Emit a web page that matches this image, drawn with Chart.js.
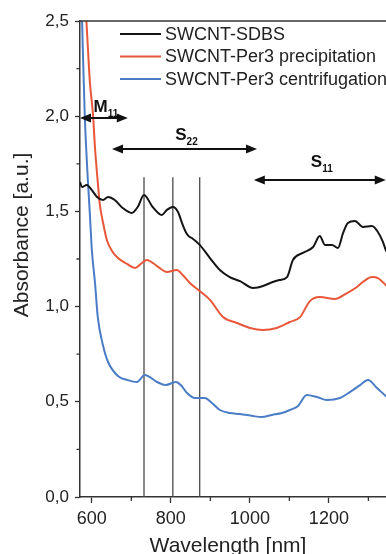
<!DOCTYPE html>
<html lang="en">
  <head>
    <meta charset="UTF-8" />
    <title>Absorbance spectra</title>
    <script src="https://cdn.jsdelivr.net/npm/chart.js"></script>
    <style>
      html, body { margin: 0; padding: 0; background: #fff; overflow: hidden; }
      .wrap { width: 400px; height: 554px; position: relative; }
    </style>
  </head>
  <body>
    <div class="wrap"><canvas id="spectra"></canvas></div>
    <script>
      // tick labels
      const xTicks = [600, 800, 1000, 1200];
      const xTickLabels = ["600", "800", "1000", "1200"];
      const xMinorTicks = [700, 900, 1100, 1300];
      const yTicks = [0, 0.5, 1, 1.5, 2, 2.5];
      const yTickLabels = ["0,0", "0,5", "1,0", "1,5", "2,0", "2,5"];
      const yMinorTicks = [0.25, 0.75, 1.25, 1.75, 2.25];

      const seriesNames = [
        "SWCNT-SDBS",
        "SWCNT-Per3 precipitation",
        "SWCNT-Per3 centrifugation",
      ];

      // SWCNT-SDBS
      const sdbsNm = [570, 575, 587, 600, 613, 628, 641, 658, 678, 701, 716, 732, 754, 777, 790, 805, 818, 830, 838, 845, 853, 873, 899, 924, 949, 975, 1008, 1020, 1033, 1058, 1075, 1094, 1109, 1134, 1160, 1177, 1190, 1208, 1223, 1236, 1248, 1266, 1286, 1309, 1324, 1337, 1344, 1360];
      const sdbsAbs = [1.654, 1.628, 1.639, 1.612, 1.576, 1.56, 1.576, 1.56, 1.518, 1.492, 1.523, 1.586, 1.523, 1.481, 1.508, 1.523, 1.497, 1.429, 1.39, 1.37, 1.36, 1.324, 1.255, 1.192, 1.155, 1.134, 1.098, 1.1, 1.108, 1.129, 1.14, 1.155, 1.245, 1.282, 1.313, 1.371, 1.324, 1.324, 1.308, 1.387, 1.439, 1.45, 1.418, 1.423, 1.392, 1.339, 1.297, 1.25];

      // SWCNT-Per3 precipitation
      const precNm = [583, 590, 595, 603, 608, 615, 620, 628, 638, 651, 666, 689, 709, 727, 739, 765, 790, 815, 830, 848, 873, 899, 932, 967, 1000, 1033, 1068, 1101, 1127, 1152, 1177, 1215, 1246, 1271, 1286, 1309, 1324, 1344, 1360];
      const precAbs = [2.62, 2.358, 2.18, 2.006, 1.833, 1.654, 1.539, 1.444, 1.35, 1.292, 1.255, 1.224, 1.203, 1.229, 1.245, 1.213, 1.182, 1.192, 1.166, 1.124, 1.082, 1.035, 0.945, 0.914, 0.888, 0.877, 0.888, 0.919, 0.945, 1.029, 1.05, 1.04, 1.071, 1.103, 1.129, 1.155, 1.15, 1.113, 1.08];

      // SWCNT-Per3 centrifugation
      const centNm = [574, 577, 582, 590, 595, 600, 608, 615, 628, 641, 666, 691, 714, 734, 765, 787, 813, 825, 841, 861, 886, 904, 924, 949, 975, 1008, 1030, 1056, 1081, 1101, 1122, 1144, 1170, 1195, 1228, 1253, 1279, 1299, 1322, 1344, 1360];
      const centAbs = [2.62, 2.358, 2.006, 1.66, 1.486, 1.297, 1.124, 0.945, 0.798, 0.709, 0.636, 0.614, 0.604, 0.641, 0.604, 0.588, 0.604, 0.588, 0.546, 0.52, 0.52, 0.494, 0.457, 0.441, 0.436, 0.425, 0.42, 0.431, 0.441, 0.457, 0.478, 0.536, 0.525, 0.509, 0.52, 0.551, 0.588, 0.614, 0.572, 0.53, 0.5];

      // marker lines
      const markerNm = [732, 805, 873];
      const markerTop = 1.68;

      // transition bands: nm range, arrow level, label level
      const bands = [
        { main: "M", sub: "11", from: 570, to: 691, level: 1.99, labelAt: 2.02 },
        { main: "S", sub: "22", from: 651, to: 1018, level: 1.828, labelAt: 1.875 },
        { main: "S", sub: "11", from: 1010, to: 1344, level: 1.665, labelAt: 1.733 },
      ];

      const colors = ["#151515", "#e8573a", "#4a7dc6"];
      const axisColor = "#333";
      const FONT = "'Liberation Sans', Arial, sans-serif";
      Chart.defaults.font.family = FONT;
      Chart.defaults.color = "#222";

      const pts = (xs, ys) => xs.map((v, i) => ({ x: v, y: ys[i] }));

      const curves = [
        pts(sdbsNm, sdbsAbs),
        pts(precNm, precAbs),
        pts(centNm, centAbs),
      ].map((d, i) => ({
        label: seriesNames[i],
        data: d,
        borderColor: colors[i],
        borderWidth: 2,
        pointRadius: 0,
        cubicInterpolationMode: "monotone",
        order: 0,
      }));

      const markers = markerNm.map((nm) => ({
        label: "marker",
        data: [
          { x: nm, y: 0 },
          { x: nm, y: markerTop },
        ],
        borderColor: "#4a4a4a",
        borderWidth: 1.3,
        pointRadius: 0,
        order: 1,
      }));

      function arrowHead(ctx, x, y, dir) {
        ctx.beginPath();
        ctx.moveTo(x, y);
        ctx.lineTo(x - dir * 11, y - 4.5);
        ctx.lineTo(x - dir * 11, y + 4.5);
        ctx.closePath();
        ctx.fill();
      }

      const decor = {
        id: "decor",
        afterDraw(chart) {
          const { ctx, chartArea: a, scales } = chart;
          const x = scales.x, y = scales.y;
          ctx.save();

          // top frame line
          ctx.strokeStyle = axisColor;
          ctx.lineWidth = 1.5;
          ctx.beginPath();
          ctx.moveTo(a.left, a.top);
          ctx.lineTo(a.right, a.top);
          ctx.stroke();

          // minor ticks
          ctx.lineWidth = 1.3;
          ctx.beginPath();
          xMinorTicks.forEach((v) => {
            const px = x.getPixelForValue(v);
            ctx.moveTo(px, a.bottom);
            ctx.lineTo(px, a.bottom + 4);
          });
          yMinorTicks.forEach((v) => {
            const py = y.getPixelForValue(v);
            ctx.moveTo(a.left, py);
            ctx.lineTo(a.left - 3.5, py);
          });
          ctx.stroke();

          // transition bands
          ctx.strokeStyle = "#111";
          ctx.fillStyle = "#111";
          ctx.lineWidth = 2;
          bands.forEach((b) => {
            const x1 = x.getPixelForValue(b.from);
            const x2 = x.getPixelForValue(b.to);
            const py = y.getPixelForValue(b.level);
            ctx.beginPath();
            ctx.moveTo(x1 + 6, py);
            ctx.lineTo(x2 - 6, py);
            ctx.stroke();
            arrowHead(ctx, x1, py, -1);
            arrowHead(ctx, x2, py, 1);

            ctx.font = "bold 17px " + FONT;
            const wm = ctx.measureText(b.main).width;
            ctx.font = "bold 10px " + FONT;
            const ws = ctx.measureText(b.sub).width;
            const cx = (x1 + x2) / 2 + 2;
            const lx = cx - (wm + ws) / 2;
            const ly = y.getPixelForValue(b.labelAt);
            ctx.textBaseline = "alphabetic";
            ctx.textAlign = "left";
            ctx.font = "bold 17px " + FONT;
            ctx.fillText(b.main, lx, ly);
            ctx.font = "bold 10px " + FONT;
            ctx.fillText(b.sub, lx + wm, ly + 5);
          });

          // legend
          ctx.font = "18px " + FONT;
          ctx.textBaseline = "middle";
          ctx.textAlign = "left";
          curves.forEach((c, i) => {
            const ry = 34 + i * 22.5;
            ctx.strokeStyle = c.borderColor;
            ctx.lineWidth = 2;
            ctx.beginPath();
            ctx.moveTo(120, ry);
            ctx.lineTo(161, ry);
            ctx.stroke();
            ctx.fillStyle = "#222";
            ctx.fillText(c.label, 165, ry + 1);
          });

          // axis titles
          ctx.font = "21px " + FONT;
          ctx.textAlign = "center";
          ctx.fillStyle = "#222";
          ctx.fillText("Wavelength [nm]", 228, 546);
          ctx.translate(22, 235);
          ctx.rotate(-Math.PI / 2);
          ctx.fillText("Absorbance [a.u.]", 0, 0);

          ctx.restore();
        },
      };

      new Chart(document.getElementById("spectra"), {
        type: "line",
        data: { datasets: [...curves, ...markers] },
        options: {
          responsive: true,
          maintainAspectRatio: false,
          animation: false,
          layout: { padding: { top: 21, left: 0, right: 0, bottom: 0 } },
          plugins: {
            legend: { display: false },
            tooltip: { enabled: false },
          },
          scales: {
            x: {
              type: "linear",
              min: 570,
              max: 1380,
              afterFit: (s) => { s.height = 57; },
              afterBuildTicks: (s) => { s.ticks = xTicks.map((v) => ({ value: v })); },
              border: { display: true, color: axisColor, width: 1.5 },
              grid: { drawOnChartArea: false, drawTicks: true, tickLength: 6, tickColor: axisColor, tickWidth: 1.3 },
              ticks: {
                autoSkip: false,
                maxRotation: 0,
                padding: 5,
                font: { size: 18 },
                color: "#222",
                callback: (v) => xTickLabels[xTicks.indexOf(v)],
              },
            },
            y: {
              type: "linear",
              min: 0,
              max: 2.5,
              afterFit: (s) => { s.width = 80; },
              afterBuildTicks: (s) => { s.ticks = yTicks.map((v) => ({ value: v })); },
              border: { display: true, color: axisColor, width: 1.5 },
              grid: { drawOnChartArea: false, drawTicks: true, tickLength: 5, tickColor: axisColor, tickWidth: 1.3 },
              ticks: {
                padding: 6,
                font: { size: 17 },
                color: "#222",
                callback: (v) => yTickLabels[yTicks.indexOf(v)],
              },
            },
          },
        },
        plugins: [decor],
      });
    </script>
  </body>
</html>
